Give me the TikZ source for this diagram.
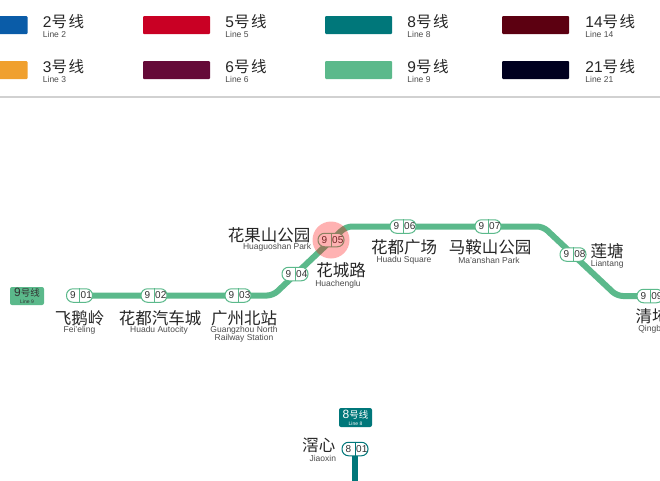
\documentclass[tikz,border=0pt]{standalone}
\usepackage{fontspec}
\setmainfont{Liberation Sans}
\newfontfamily\cjk{Noto Sans CJK SC}
\usetikzlibrary{positioning,backgrounds}
\definecolor{lineB}{HTML}{0A5CA8}
\definecolor{lineC}{HTML}{F0A02E}
\definecolor{lineE}{HTML}{C90024}
\definecolor{lineF}{HTML}{650A38}
\definecolor{lineH}{HTML}{00777A}
\definecolor{lineI}{HTML}{5BB98B}
\definecolor{lineN}{HTML}{5C0011}
\definecolor{lineU}{HTML}{00001F}
\begin{document}
\begin{tikzpicture}[
            x=1pt, y=-1pt,
            legendbox/.style={rectangle, rounded corners=1pt, minimum width=67pt, minimum height=18pt, inner sep=0pt},
            legendname/.style={inner sep=0pt, minimum height=16pt, text=black!85, font=\fontsize{15.5}{15}\selectfont},
            enlabel/.style={inner sep=0pt, minimum height=8pt, text=black!70, font=\fontsize{8.5}{8}\selectfont},
            cnlabel/.style={inner sep=0pt, minimum height=16pt, text=black!85, font=\fontsize{16.5}{16}\selectfont\cjk},
            pill/.style={rectangle, rounded corners=6.5pt, draw=#1, line width=1pt, fill=white, minimum width=26pt, minimum height=13.5pt, inner sep=0pt},
            pilltext/.style={inner sep=0pt, text=black!80, font=\fontsize{10}{9}\selectfont},
            metro/.style={line width=6pt, rounded corners=6pt},
            badge/.style={rectangle, rounded corners=2pt, inner sep=0pt, align=center, font=\fontsize{12}{9}\selectfont}
        ]
            \useasboundingbox (0,0) rectangle (660,480);

            % legend
            \foreach \nm/\xx/\yy/\col/\num/\gap in {
                    b/-6/25/lineB/2/15, c/-6/70/lineC/3/15,
                    e/176.5/25/lineE/5/15, f/176.5/70/lineF/6/15,
                    h/358.5/25/lineH/8/15, i/358.5/70/lineI/9/15,
                    n/535.5/25/lineN/14/16, u/535.5/70/lineU/21/16} {
                \node[legendbox, fill=\col] (box\nm) at (\xx,\yy) {};
                \node[legendname, right=\gap pt of box\nm, yshift=3pt] (name\nm) {\num{\cjk 号\hspace{1.5pt}线}};
                \node[enlabel, anchor=north west] (en\nm) at (name\nm.south west) {Line \num};
            }
            \coordinate (ruleL) at (0,97);
            \coordinate (ruleR) at (660,97);
            \draw[black!18, line width=1.5pt] (ruleL) -- (ruleR);

            % stations
            \foreach \nm/\pos/\col/\aa/\bb in {
                    s901/{79.5,295.5}/lineI/9/01, s902/{154,295.5}/lineI/9/02, s903/{238,295.5}/lineI/9/03,
                    s904/{295,274}/lineI/9/04, s905/{331,240}/lineI/9/05, s906/{403,226.5}/lineI/9/06,
                    s907/{488,226.5}/lineI/9/07, s908/{573,254.5}/lineI/9/08, s909/{650,296}/lineI/9/09,
                    s801/{355,449}/lineH/8/01} {
                \node[pill=\col] (\nm) at (\pos) {};
                \draw[\col, line width=0.6pt] (\nm.north) -- (\nm.south);
                \node[pilltext] at ([xshift=-6.5pt]\nm.center) {\aa};
                \node[pilltext] at ([xshift=6.8pt]\nm.center) {\bb};
            }

            \coordinate (bendA) at (273,295.5);
            \coordinate (bendB) at (346,226.5);
            \coordinate (bendC) at (543,226.5);
            \coordinate (bendD) at (617,296);
            \coordinate (endI) at (670,296);
            \coordinate (endH) at (355,490);
            \begin{scope}[on background layer]
                \fill[white] (0,0) rectangle (660,480);
                \draw[metro, lineI] (s901.center) -- (bendA) -- (bendB) -- (bendC) -- (bendD) -- (endI);
                \draw[lineH, line width=5.5pt] (s801.center) -- (endH);
            \end{scope}

            \node[circle, fill=red, opacity=0.3, minimum size=37pt, inner sep=0pt] (hilite) at (s905) {};

            % line badges
            \node[badge, fill=lineI, text=black!80, minimum width=34pt, minimum height=18pt] (badgeI) at (27,296)
                {9{\cjk\fontsize{9.5}{9}\selectfont 号线}\\[-2pt]{\fontsize{5}{5}\selectfont Line 9}};
            \node[badge, fill=lineH, text=white, minimum width=33pt, minimum height=19pt] (badgeH) at (355.5,417.5)
                {8{\cjk\fontsize{9.5}{9}\selectfont 号线}\\[-2pt]{\fontsize{5}{5}\selectfont Line 8}};

            % station names
            \node[cnlabel, below=7pt of s901] (feieling) {飞鹅岭};
            \node[enlabel, below=0pt of feieling] (feielingEn) {Fei'eling};
            \node[cnlabel, below=7pt of s902, xshift=6pt] (autocity) {花都汽车城};
            \node[enlabel, below=0pt of autocity, xshift=-1pt] (autocityEn) {Huadu Autocity};
            \node[cnlabel, below=7pt of s903, xshift=6pt] (gznorth) {广州北站};
            \node[enlabel, below=0pt of gznorth] (gznorthEn) {Guangzhou North};
            \node[enlabel, below=0pt of gznorthEn] (gznorthEnB) {Railway Station};
            \node[cnlabel, left=7pt of s905, yshift=5pt] (huaguo) {花果山公园};
            \node[enlabel, below=0pt of huaguo, xshift=8pt] (huaguoEn) {Huaguoshan Park};
            \node[cnlabel, below=15pt of s905, xshift=10pt] (huacheng) {花城路};
            \node[enlabel, below=1pt of huacheng, xshift=-3pt] (huachengEn) {Huachenglu};
            \node[cnlabel, below=5pt of s906, xshift=1pt] (square) {花都广场};
            \node[enlabel, below=1pt of square] (squareEn) {Huadu Square};
            \node[cnlabel, below=5pt of s907, xshift=2pt] (maan) {马鞍山公园};
            \node[enlabel, below=1pt of maan, xshift=-1pt] (maanEn) {Ma'anshan Park};
            \node[cnlabel, right=4pt of s908, yshift=3.5pt] (liantang) {莲塘};
            \node[enlabel, below=1pt of liantang] (liantangEn) {Liantang};
            \node[cnlabel, below=5pt of s909, xshift=2pt] (qingbu) {清㘵};
            \node[enlabel, below=0.5pt of qingbu] (qingbuEn) {Qingbu};
            \node[cnlabel, left=6pt of s801, yshift=4pt] (jiaoxin) {滘心};
            \node[enlabel, below=1pt of jiaoxin, xshift=4pt] (jiaoxinEn) {Jiaoxin};
        \end{tikzpicture}
\end{document}
